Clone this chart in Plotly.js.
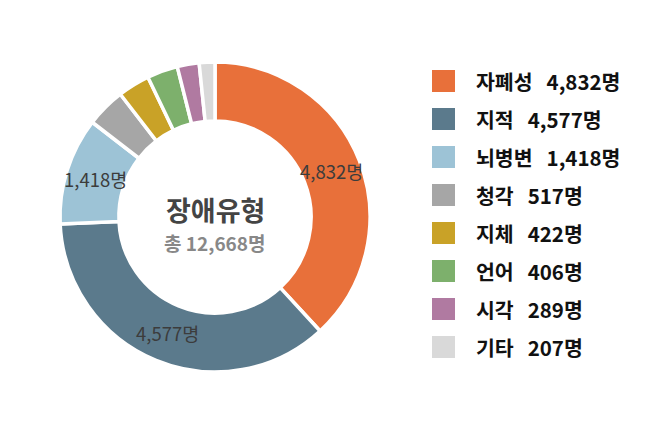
<!DOCTYPE html>
<html><head><meta charset="utf-8">
<script src="https://cdn.plot.ly/plotly-3.0.1.min.js"></script>
<style>html,body{margin:0;padding:0;background:#fff}#c{width:658px;height:431px}</style>
</head><body><div id="c"></div>
<script>
const categories = ['자폐성','지적','뇌병변','청각','지체','언어','시각','기타'];
const values = [4832, 4577, 1418, 517, 422, 406, 289, 207];
const colors = ['#E8703A','#5B7A8C','#9DC3D6','#A6A6A6','#C9A227','#7DB06C','#B07AA1','#D9D9D9'];
const insideLabelCount = 3;
const centerTitle = '장애유형';
const total = values.reduce((a,b)=>a+b,0);
const fmt = v => v.toLocaleString('en-US') + '명';

const W = 658, H = 431;
const CX = 215, CY = 217, R = 155, HOLE = 0.62;

const trace = {
  type: 'pie',
  labels: categories,
  values: values,
  textinfo: 'none',
  hole: HOLE,
  sort: false,
  direction: 'clockwise',
  rotation: 0,
  marker: {colors: colors, line: {color: '#ffffff', width: 3.5}},
  domain: {x: [(CX-R)/W, (CX+R)/W], y: [(H-CY-R)/H, (H-CY+R)/H]},
  showlegend: false,
  hoverinfo: 'none'
};

const shapes = [];
const annotations = [
  {text: '<b>' + centerTitle + '</b>', x: CX/W, y: 1 - 230/H, xref: 'paper', yref: 'paper', showarrow: false,
   font: {family: '"Noto Sans CJK KR", sans-serif', size: 27, color: '#444444'}, xanchor: 'center', yanchor: 'bottom', borderpad: 0},
  {text: '<b>총 ' + total.toLocaleString('en-US') + '명</b>', x: CX/W, y: 1 - 228/H, xref: 'paper', yref: 'paper', showarrow: false,
   font: {family: '"Noto Sans CJK KR", sans-serif', size: 19, color: '#888888'}, xanchor: 'center', yanchor: 'top', borderpad: 0}
];

// slice value labels at mid-angle, mid-ring
let cum = 0;
values.forEach((v, i) => {
  const mid = (cum + v / 2) / total * 2 * Math.PI;
  cum += v;
  if (i >= insideLabelCount) return;
  const rr = R * (1 + HOLE) / 2;
  const px = CX + rr * Math.sin(mid), py = CY - rr * Math.cos(mid);
  annotations.push({text: fmt(v), x: px/W, y: 1 - py/H, xref: 'paper', yref: 'paper', showarrow: false,
    xanchor: 'center', yanchor: 'middle', borderpad: 0,
    font: {family: '"Noto Sans CJK KR", "Noto Sans", sans-serif', size: 18.5, color: '#3c3c3c'}});
});

categories.forEach((c, i) => {
  const cy = 81 + 38 * i;
  shapes.push({type: 'rect', xref: 'paper', yref: 'paper',
    x0: 432/W, x1: 455/W, y0: 1 - (cy - 11)/H, y1: 1 - (cy + 11)/H,
    fillcolor: colors[i], line: {width: 0}});
  annotations.push({text: '<b>' + c + '&nbsp;&nbsp; ' + fmt(values[i]) + '</b>', x: 474/W, y: 1 - cy/H,
    xref: 'paper', yref: 'paper', showarrow: false, xanchor: 'left', yanchor: 'middle',
    font: {family: '"Noto Sans CJK KR", sans-serif', size: 20.5, color: '#111111'}});
});

Plotly.newPlot('c', [trace], {
  width: W, height: H,
  margin: {l: 0, r: 0, t: 0, b: 0},
  paper_bgcolor: '#ffffff',
  showlegend: false,
  shapes: shapes,
  annotations: annotations
}, {displayModeBar: false, staticPlot: true});
</script></body></html>
